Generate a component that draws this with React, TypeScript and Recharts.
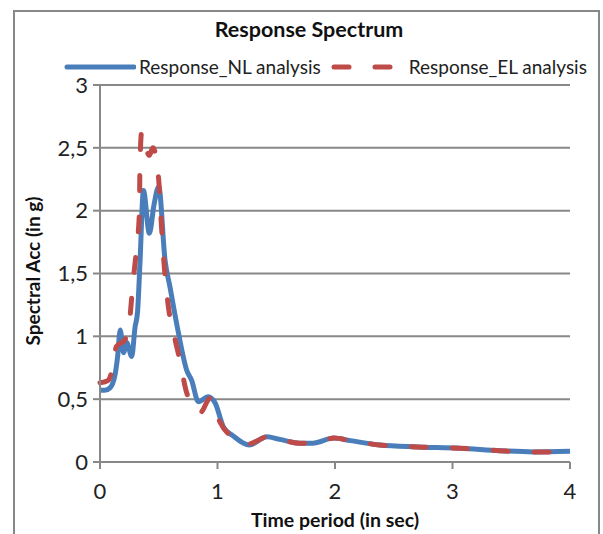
import React from 'react';
import { LineChart, Line, XAxis, YAxis, CartesianGrid } from 'recharts';

const nlTime = [0, 0.04, 0.085, 0.125, 0.15, 0.172, 0.2, 0.227, 0.27, 0.298, 0.32, 0.34, 0.37, 0.42, 0.46, 0.5, 0.553, 0.596, 0.667, 0.738, 0.78, 0.837, 0.92, 0.98, 1.05, 1.13, 1.27, 1.42, 1.53, 1.7, 1.81, 1.99, 2.13, 2.38, 2.7, 3.06, 3.4, 3.69, 4.0];
const nlAcc = [0.57, 0.57, 0.59, 0.68, 0.84, 1.05, 0.87, 0.95, 0.84, 1.07, 1.2, 1.58, 2.16, 1.82, 2.05, 2.19, 1.61, 1.39, 1.03, 0.73, 0.65, 0.48, 0.52, 0.47, 0.28, 0.21, 0.135, 0.2, 0.18, 0.15, 0.15, 0.19, 0.17, 0.135, 0.12, 0.11, 0.09, 0.08, 0.085];

const elTime = [0, 0.07, 0.1, 0.14, 0.21, 0.25, 0.28, 0.31, 0.335, 0.34, 0.355, 0.38, 0.42, 0.45, 0.5, 0.525, 0.545, 0.58, 0.64, 0.68, 0.738, 0.85, 0.94, 1.02, 1.11, 1.27, 1.42, 1.53, 1.7, 1.81, 1.99, 2.13, 2.38, 2.7, 3.06, 3.4, 3.69, 4.0];
const elAcc = [0.63, 0.65, 0.72, 0.92, 0.97, 1.11, 1.42, 1.69, 1.98, 2.35, 2.63, 2.54, 2.44, 2.5, 2.24, 1.85, 1.58, 1.25, 0.97, 0.81, 0.55, 0.39, 0.51, 0.32, 0.21, 0.145, 0.2, 0.18, 0.15, 0.15, 0.19, 0.17, 0.135, 0.12, 0.11, 0.09, 0.08, 0.08];

const xTicks = [0, 1, 2, 3, 4];
const yTicks = [0, 0.5, 1, 1.5, 2, 2.5, 3];

const nlData = nlTime.map((t, i) => ({ t, acc: nlAcc[i] }));
const elData = elTime.map((t, i) => ({ t, acc: elAcc[i] }));

const BLUE = '#4A7EBB';
const RED = '#BE4B48';
const GREY = '#888888';
const FONT = 'Lato, "Liberation Sans", sans-serif';

const LegendBox = () => (
  <div style={{ display: 'flex', alignItems: 'center', fontFamily: FONT, fontSize: 19, color: '#222', whiteSpace: 'nowrap' }}>
    <svg width={72} height={10}>
      <line x1={3} y1={5} x2={70} y2={5} stroke={BLUE} strokeWidth={5} strokeLinecap="round" />
    </svg>
    <span style={{ marginLeft: 3 }}>Response_NL analysis</span>
    <svg width={76} height={10} style={{ marginLeft: 6 }}>
      <line x1={7} y1={5} x2={70} y2={5} stroke={RED} strokeWidth={5} strokeLinecap="round" strokeDasharray="15 26" />
    </svg>
    <span style={{ marginLeft: 6 }}>Response_EL analysis</span>
  </div>
);

const fmt = (v: number) => String(v).replace('.', ',');

export default function App() {
  return (
    <div style={{ position: 'absolute', left: 0, top: 0, width: 603, height: 534, overflow: 'hidden', background: '#fff' }}>
      <div style={{ position: 'absolute', left: 13, top: 10, width: 587, height: 560, border: `2px solid ${GREY}`, boxSizing: 'border-box' }} />
      <div style={{ position: 'absolute', left: 0, width: 618, top: 16, textAlign: 'center', fontFamily: FONT, fontWeight: 700, fontSize: 21.5, color: '#111' }}>
        Response Spectrum
      </div>
      <div style={{ position: 'absolute', left: 0, width: 670, top: 508, textAlign: 'center', fontFamily: FONT, fontWeight: 700, fontSize: 19.5, color: '#111' }}>
        Time period (in sec)
      </div>
      <div style={{ position: 'absolute', left: 32, top: 271, transform: 'translate(-50%, -50%) rotate(-90deg)', whiteSpace: 'nowrap', fontFamily: FONT, fontWeight: 700, fontSize: 19, color: '#111' }}>
        Spectral Acc (in g)
      </div>
      <div style={{ position: 'absolute', left: 64, top: 55 }}>
        <LegendBox />
      </div>
      <LineChart width={603} height={534} margin={{ top: 85, right: 33, bottom: 42, left: 40 }} style={{ position: 'absolute', left: 0, top: 0 }}>
        <CartesianGrid vertical={false} stroke={GREY} strokeWidth={2} horizontalValues={yTicks} />
        <XAxis dataKey="t" type="number" domain={[0, 4]} ticks={xTicks} allowDuplicatedCategory={false}
          height={30} stroke={GREY} strokeWidth={2} tickSize={7}
          tick={{ fontFamily: FONT, fontSize: 22, fill: '#222' }} tickMargin={14} />
        <YAxis type="number" domain={[0, 3]} ticks={yTicks} width={60} stroke={GREY} strokeWidth={2} tickSize={7}
          tick={{ fontFamily: FONT, fontSize: 22, fill: '#222' }} tickMargin={5} tickFormatter={fmt} />
        <Line data={nlData} dataKey="acc" type="monotone" stroke={BLUE} strokeWidth={5} dot={false} isAnimationActive={false} />
        <Line data={elData} dataKey="acc" type="monotone" stroke={RED} strokeWidth={5} strokeDasharray="15 26" strokeLinecap="round" dot={false} isAnimationActive={false} />
      </LineChart>
    </div>
  );
}
